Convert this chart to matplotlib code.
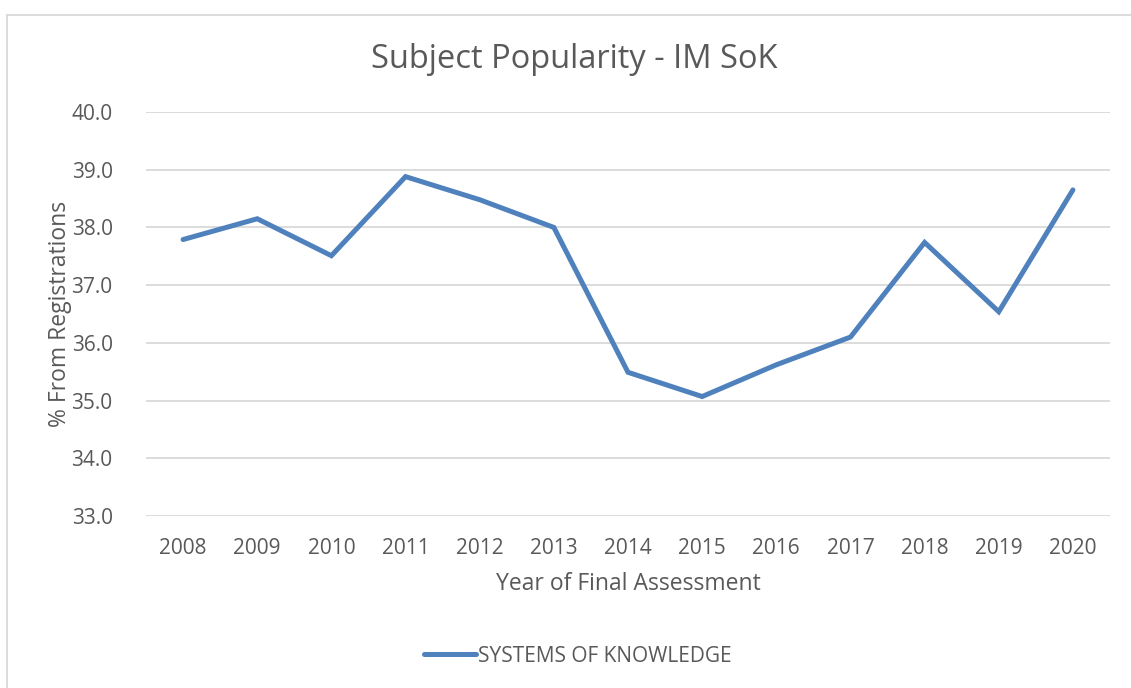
import numpy as np
import matplotlib.pyplot as plt
from matplotlib.lines import Line2D

years = ['2008', '2009', '2010', '2011', '2012', '2013', '2014',
         '2015', '2016', '2017', '2018', '2019', '2020']
pct = [37.79, 38.15, 37.51, 38.88, 38.48, 38.0, 35.49,
       35.07, 35.62, 36.10, 37.74, 36.54, 38.65]
yticks = [33.0, 34.0, 35.0, 36.0, 37.0, 38.0, 39.0, 40.0]

blue = '#4F81BD'
txt = '#595959'
W, H = 1131, 688

plt.rcParams['font.family'] = ['Open Sans', 'DejaVu Sans']

fig = plt.figure(figsize=(W / 100, H / 100), dpi=100)
ax = fig.add_axes([146 / W, 1 - 516 / H, (1110 - 146) / W, (516 - 112) / H])

x = np.arange(len(years))
ax.plot(x, pct, color=blue, lw=3.6, solid_joinstyle='miter', solid_capstyle='round')

ax.set_xlim(-0.5, len(years) - 0.5)
ax.set_ylim(33, 40)
ax.set_yticks(yticks)
ax.set_yticklabels(['%.1f' % v for v in yticks])
ax.set_xticks(x)
ax.set_xticklabels(years)
ax.tick_params(length=0, labelsize=15, colors=txt)
ax.tick_params(axis='y', pad=24)
ax.tick_params(axis='x', pad=15.5)
ax.grid(axis='y', color='#D9D9D9', lw=1.3)
ax.set_axisbelow(True)
for s in ax.spines.values():
    s.set_visible(False)

fig.text(628 / W, 1 - 584 / H, 'Year of Final Assessment', fontsize=16.5,
         color=txt, ha='center', va='center')
fig.text(60 / W, 1 - 314 / H, '% From Registrations', fontsize=16.5,
         color=txt, ha='center', va='center', rotation=90)
fig.text(574 / W, 1 - 60 / H, 'Subject Popularity - IM SoK', fontsize=23.5,
         color=txt, ha='center', va='center')

# legend
handle = Line2D([], [], color=blue, lw=3.6, solid_capstyle='round')
fig.legend([handle], ['SYSTEMS OF KNOWLEDGE'], loc='center',
           bbox_to_anchor=(578 / W, 1 - 656 / H), frameon=False,
           fontsize=15, labelcolor=txt, handlelength=2.5, handletextpad=0.1)

# chart border
fig.add_artist(Line2D([7 / W, 1], [1 - 15 / H, 1 - 15 / H], color='#D9D9D9', lw=1.3))
fig.add_artist(Line2D([7 / W, 7 / W], [0, 1 - 15 / H], color='#D9D9D9', lw=1.3))

fig.savefig('out.png', dpi=100, facecolor='white')
